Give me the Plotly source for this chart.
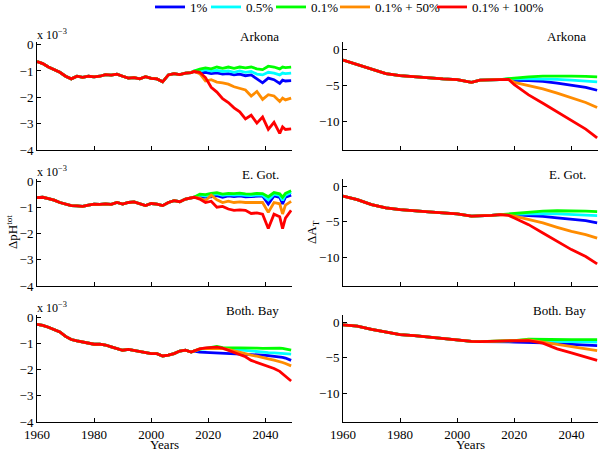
import plotly.graph_objects as go

# ---------------- data ----------------
SCENARIOS = ["1%", "0.5%", "0.1%", "0.1% + 50%", "0.1% + 100%"]
COLORS = ["#0000FF", "#00FFFF", "#00FF00", "#FF8C00", "#FF0000"]
STATIONS = ["Arkona", "E. Got.", "Both. Bay"]

# pH (x 10^-3), left column
HIST_YEARS_L = list(range(1960, 2015, 2))
FUT_YEARS_L = [2015, 2017, 2019, 2021, 2023, 2025, 2027, 2029, 2031, 2033,
               2035, 2037, 2039, 2041, 2043, 2045, 2046, 2047, 2049]

ph_hist_arkona = [-0.64, -0.72, -0.85, -0.95, -1.05, -1.2, -1.3, -1.2, -1.24, -1.2,
                  -1.22, -1.2, -1.14, -1.16, -1.12, -1.2, -1.27, -1.25, -1.3, -1.22,
                  -1.28, -1.3, -1.41, -1.15, -1.1, -1.14, -1.08, -1.06]
ph_fut_arkona = {
    "1%":          [-1.02, -1.08, -1.05, -1.1, -1.07, -1.12, -1.1, -1.15, -1.12, -1.18,
                    -1.15, -1.3, -1.45, -1.27, -1.33, -1.47, -1.35, -1.38, -1.37],
    "0.5%":        [-1.0, -1.0, -0.95, -1.0, -0.98, -1.02, -1.0, -1.05, -1.0, -1.05,
                    -1.02, -1.12, -1.15, -1.05, -1.08, -1.15, -1.08, -1.1, -1.08],
    "0.1%":        [-1.0, -0.93, -0.88, -0.92, -0.85, -0.9, -0.85, -0.9, -0.85, -0.88,
                    -0.85, -0.92, -0.95, -0.82, -0.85, -0.92, -0.85, -0.87, -0.85],
    "0.1% + 50%":  [-1.02, -1.1, -1.38, -1.33, -1.42, -1.45, -1.5, -1.6, -1.67, -1.72,
                    -1.95, -1.78, -2.08, -1.9, -1.95, -2.16, -2.03, -2.1, -2.03],
    "0.1% + 100%": [-1.02, -1.05, -1.25, -1.62, -1.8, -2.05, -2.2, -2.4, -2.55, -2.82,
                    -2.68, -2.98, -2.75, -3.22, -2.95, -3.37, -3.12, -3.22, -3.2],
}

ph_hist_egot = [-0.61, -0.6, -0.65, -0.71, -0.8, -0.86, -0.92, -0.93, -0.95, -0.9,
                -0.86, -0.87, -0.85, -0.87, -0.8, -0.86, -0.8, -0.78, -0.84, -0.92,
                -0.84, -0.86, -0.92, -0.8, -0.73, -0.77, -0.67, -0.63]
ph_fut_egot = {
    "1%":          [-0.6, -0.6, -0.6, -0.58, -0.54, -0.6, -0.55, -0.57, -0.55, -0.58,
                    -0.57, -0.55, -0.55, -0.86, -0.55, -0.6, -0.86, -0.6, -0.52],
    "0.5%":        [-0.6, -0.52, -0.55, -0.5, -0.47, -0.53, -0.5, -0.52, -0.5, -0.53,
                    -0.54, -0.51, -0.52, -0.7, -0.48, -0.53, -0.72, -0.52, -0.42],
    "0.1%":        [-0.6, -0.48, -0.5, -0.45, -0.42, -0.48, -0.45, -0.46, -0.44, -0.47,
                    -0.48, -0.45, -0.46, -0.58, -0.42, -0.47, -0.6, -0.45, -0.35],
    "0.1% + 50%":  [-0.6, -0.63, -0.73, -0.52, -0.7, -0.8, -0.75, -0.8, -0.78, -0.8,
                    -0.8, -0.78, -0.8, -1.18, -0.8, -0.85, -1.24, -0.9, -0.76],
    "0.1% + 100%": [-0.6, -0.67, -0.8, -0.75, -0.98, -0.95, -1.05, -1.1, -1.08, -1.1,
                    -1.22, -1.2, -1.25, -1.8, -1.25, -1.35, -1.8, -1.4, -1.1],
}

ph_hist_both = [-0.26, -0.3, -0.37, -0.46, -0.55, -0.72, -0.84, -0.89, -0.93, -0.97,
                -1.02, -1.02, -1.05, -1.12, -1.2, -1.25, -1.22, -1.26, -1.31, -1.35,
                -1.38, -1.38, -1.47, -1.44, -1.38, -1.28, -1.25, -1.32]
ph_fut_both = {
    "1%":          [-1.28, -1.32, -1.33, -1.35, -1.34, -1.35, -1.36, -1.37, -1.38, -1.4,
                    -1.42, -1.43, -1.44, -1.46, -1.48, -1.5, -1.52, -1.55, -1.64],
    "0.5%":        [-1.28, -1.22, -1.2, -1.18, -1.15, -1.18, -1.2, -1.24, -1.26, -1.28,
                    -1.3, -1.32, -1.33, -1.34, -1.35, -1.36, -1.37, -1.38, -1.4],
    "0.1%":        [-1.28, -1.2, -1.18, -1.15, -1.1, -1.15, -1.15, -1.17, -1.16, -1.17,
                    -1.16, -1.17, -1.18, -1.17, -1.17, -1.17, -1.18, -1.2, -1.25],
    "0.1% + 50%":  [-1.28, -1.2, -1.18, -1.18, -1.17, -1.19, -1.22, -1.28, -1.35, -1.4,
                    -1.44, -1.48, -1.54, -1.58, -1.63, -1.68, -1.72, -1.76, -1.85],
    "0.1% + 100%": [-1.28, -1.2, -1.16, -1.15, -1.13, -1.17, -1.25, -1.33, -1.42, -1.5,
                    -1.64, -1.72, -1.8, -1.86, -1.95, -2.06, -2.15, -2.25, -2.43],
}

# Alkalinity, right column
HIST_YEARS_R = [1960, 1965, 1970, 1975, 1980, 1985, 1990, 1995, 2000, 2005, 2008, 2012]
FUT_YEARS_R = [2015, 2018, 2020, 2025, 2030, 2035, 2040, 2045, 2049]

at_hist_arkona = [-1.5, -2.1, -2.8, -3.4, -3.66, -3.85, -4.0, -4.13, -4.23, -4.6, -4.3, -4.3]
at_fut_arkona = {
    "1%":          [-4.23, -4.15, -4.32, -4.35, -4.46, -4.7, -5.0, -5.3, -5.7],
    "0.5%":        [-4.23, -4.12, -4.08, -4.13, -4.15, -4.2, -4.3, -4.42, -4.55],
    "0.1%":        [-4.23, -4.1, -4.0, -3.85, -3.75, -3.72, -3.74, -3.78, -3.85],
    "0.1% + 50%":  [-4.23, -4.2, -4.6, -5.0, -5.5, -6.1, -6.8, -7.4, -8.1],
    "0.1% + 100%": [-4.23, -4.2, -4.93, -6.34, -7.5, -8.7, -10.0, -11.1, -12.3],
}

at_hist_egot = [-1.4, -1.9, -2.6, -3.05, -3.3, -3.5, -3.6, -3.75, -3.9, -4.2, -4.2, -4.1]
at_fut_egot = {
    "1%":          [-4.0, -4.0, -4.0, -4.13, -4.23, -4.46, -4.7, -4.84, -5.16],
    "0.5%":        [-4.0, -3.95, -3.92, -3.85, -3.85, -3.9, -4.0, -4.05, -4.13],
    "0.1%":        [-4.0, -3.9, -3.85, -3.66, -3.5, -3.45, -3.45, -3.5, -3.57],
    "0.1% + 50%":  [-4.0, -4.05, -4.2, -4.7, -5.16, -5.77, -6.34, -6.8, -7.3],
    "0.1% + 100%": [-4.0, -4.1, -4.46, -5.4, -6.57, -7.75, -8.9, -9.86, -10.9],
}

at_hist_both = [-0.38, -0.56, -1.03, -1.4, -1.74, -1.9, -2.1, -2.35, -2.58, -2.7, -2.72, -2.7]
at_fut_both = {
    "1%":          [-2.67, -2.75, -2.8, -2.8, -2.9, -3.0, -3.1, -3.2, -3.3],
    "0.5%":        [-2.67, -2.65, -2.62, -2.55, -2.67, -2.72, -2.75, -2.78, -2.8],
    "0.1%":        [-2.67, -2.62, -2.58, -2.4, -2.44, -2.44, -2.44, -2.44, -2.44],
    "0.1% + 50%":  [-2.67, -2.6, -2.58, -2.5, -2.8, -3.2, -3.5, -3.75, -4.0],
    "0.1% + 100%": [-2.67, -2.65, -2.67, -2.58, -2.95, -3.75, -4.3, -4.93, -5.35],
}

X_TICKS = [1960, 1980, 2000, 2020, 2040]
PH_TICKS = [0, -1, -2, -3, -4]
AT_TICKS = [0, -5, -10]

panels = [
    # (row, col, hist_years, hist, fut_years, fut)
    (0, 0, HIST_YEARS_L, ph_hist_arkona, FUT_YEARS_L, ph_fut_arkona),
    (0, 1, HIST_YEARS_R, at_hist_arkona, FUT_YEARS_R, at_fut_arkona),
    (1, 0, HIST_YEARS_L, ph_hist_egot, FUT_YEARS_L, ph_fut_egot),
    (1, 1, HIST_YEARS_R, at_hist_egot, FUT_YEARS_R, at_fut_egot),
    (2, 0, HIST_YEARS_L, ph_hist_both, FUT_YEARS_L, ph_fut_both),
    (2, 1, HIST_YEARS_R, at_hist_both, FUT_YEARS_R, at_fut_both),
]

# ---------------- layout geometry ----------------
W, H = 602, 452
FONT = "Liberation Serif, Times New Roman, serif"


def fx(px):
    return px / W


def fy(py):
    return (H - py) / H


col_px = [(37, 292), (343, 598)]
row_px = [(42, 150), (179, 286), (315, 422)]
col_dom = [[fx(a), fx(b)] for a, b in col_px]
row_dom = [[fy(b), fy(t)] for t, b in row_px]
LEGEND_X_PX = [150, 206, 271, 335, 432]

fig = go.Figure()
layout = {}
for idx, (r, c, hy, hv, fyrs, fv) in enumerate(panels):
    n = idx + 1
    xa = "x" if n == 1 else f"x{n}"
    ya = "y" if n == 1 else f"y{n}"
    for s_i, (name, color) in enumerate(zip(SCENARIOS, COLORS)):
        fig.add_trace(go.Scatter(
            x=list(hy) + list(fyrs), y=list(hv) + list(fv[name]),
            mode="lines", line=dict(color=color, width=2.8),
            name=name, showlegend=(idx == 0),
            legend="legend" if s_i == 0 else f"legend{s_i + 1}",
            xaxis=xa, yaxis=ya, hoverinfo="skip"))
    xkey = "xaxis" if n == 1 else f"xaxis{n}"
    ykey = "yaxis" if n == 1 else f"yaxis{n}"
    layout[xkey] = dict(
        domain=col_dom[c], anchor=ya, range=[1960, 2049.3], automargin=False,
        tickvals=X_TICKS, showticklabels=(r == 2),
        ticks="inside", ticklen=4, tickcolor="black",
        showline=True, linecolor="black", linewidth=1,
        showgrid=False, zeroline=False,
        tickfont=dict(family=FONT, size=13, color="black"))
    layout[ykey] = dict(
        domain=row_dom[r], anchor=xa, automargin=False,
        range=[-4, 0.1] if c == 0 else [-14, 1],
        tickvals=PH_TICKS if c == 0 else AT_TICKS,
        ticks="inside", ticklen=4, tickcolor="black",
        showline=True, linecolor="black", linewidth=1,
        showgrid=False, zeroline=False,
        tickfont=dict(family=FONT, size=13, color="black"))

annotations = []
for r, st in enumerate(STATIONS):
    t, b = row_px[r]
    for c in range(2):
        right_px = 281 if c == 0 else 588
        annotations.append(dict(
            text=st, x=fx(right_px), y=fy(t - 5), xref="paper", yref="paper",
            xanchor="right", yanchor="middle", showarrow=False,
            font=dict(family=FONT, size=13, color="black")))
    annotations.append(dict(
        text="x 10<sup>\u22123</sup>", x=fx(35), y=fy(t - 8),
        xref="paper", yref="paper", xanchor="left", yanchor="middle",
        showarrow=False, font=dict(family=FONT, size=12, color="black")))

for c in range(2):
    a, b = col_px[c]
    annotations.append(dict(
        text="Years", x=fx((a + b) / 2), y=fy(444), xref="paper", yref="paper",
        xanchor="center", yanchor="middle", showarrow=False,
        font=dict(family=FONT, size=13, color="black")))

annotations.append(dict(
    text="\u0394pH<sup>tot</sup>", x=fx(12), y=fy(232), xref="paper", yref="paper",
    textangle=-90, showarrow=False, xanchor="center", yanchor="middle",
    font=dict(family=FONT, size=13, color="black")))
annotations.append(dict(
    text="\u0394A<sub>T</sub>", x=fx(312), y=fy(232), xref="paper", yref="paper",
    textangle=-90, showarrow=False, xanchor="center", yanchor="middle",
    font=dict(family=FONT, size=13, color="black")))

legends = {}
for i, lx in enumerate(LEGEND_X_PX):
    key = "legend" if i == 0 else f"legend{i + 1}"
    legends[key] = dict(orientation="h", x=fx(lx), y=1.0 + 8 / H, xanchor="left",
                        yanchor="top",
                        font=dict(family=FONT, size=13, color="black"),
                        bgcolor="rgba(0,0,0,0)", borderwidth=0)

fig.update_layout(
    width=W, height=H, margin=dict(l=0, r=0, t=0, b=0, autoexpand=False),
    paper_bgcolor="white", plot_bgcolor="white",
    font=dict(family=FONT, size=13, color="black"),
    showlegend=True,
    annotations=annotations,
    **legends,
    **layout)

# remove the default 8 px page margin so the 602x452 figure fills the window
fig.write_html("out.html", config={"displayModeBar": False, "staticPlot": True},
               post_script="document.body.style.margin='0px';")
